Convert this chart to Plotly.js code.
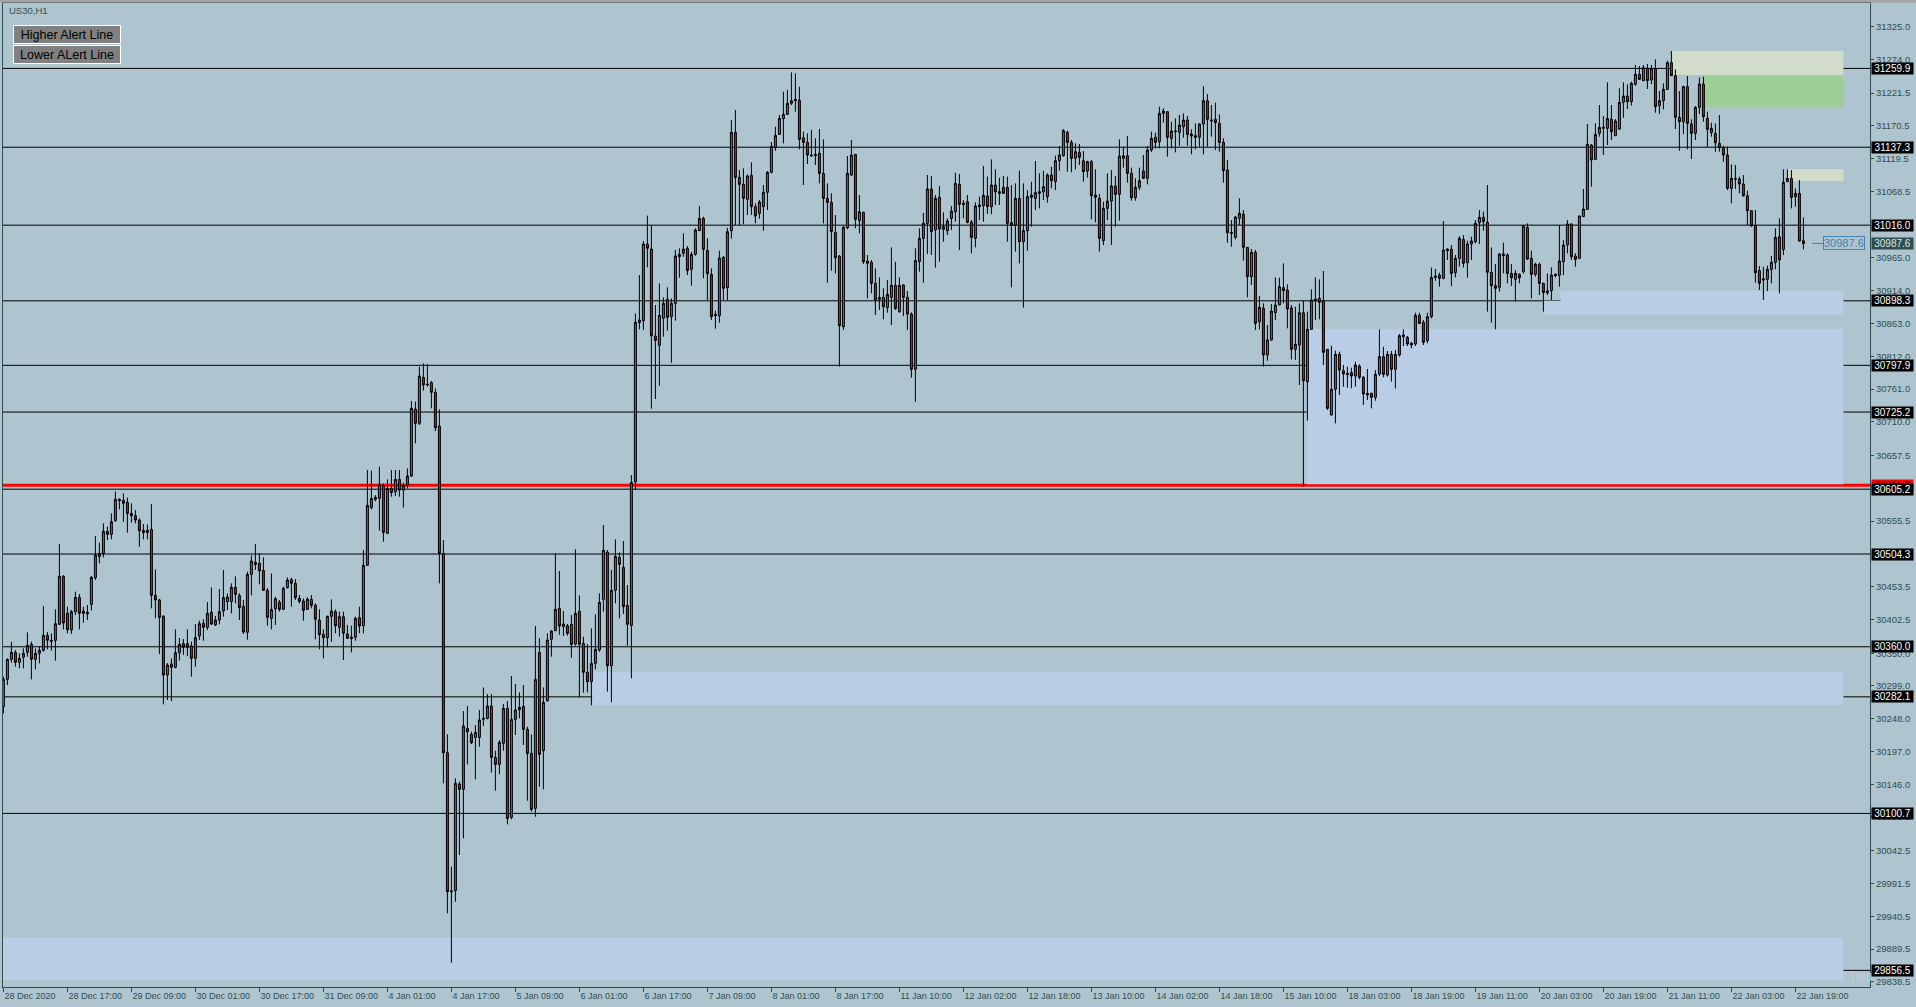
<!DOCTYPE html>
<html><head><meta charset="utf-8">
<script src="https://cdn.plot.ly/plotly-3.0.1.min.js"></script>
<style>html,body{margin:0;padding:0;background:#aec4cf;overflow:hidden}#chart{width:1916px;height:1007px}</style>
</head><body><div id="chart"></div><script>
const openP = [
30266.8,30309.3,30340.4,30351.3,30335.8,30343.6,30351.3,30363.8,30340.4,30349.8,
30354.4,30377.8,30368.4,30370.0,30394.9,30469.6,30412.0,30386.1,30414.6,30436.9,
30415.6,30411.0,30426.0,30467.5,30500.2,30505.4,30539.6,30534.9,30556.2,30589.4,
30587.8,30584.7,30567.6,30564.0,30557.2,30541.1,30537.8,30542.7,30440.0,30432.8,
30407.3,30316.1,30333.2,30328.0,30350.8,30364.8,30364.8,30361.2,30342.0,30376.7,
30396.4,30390.2,30413.6,30393.9,30401.6,30415.6,30430.2,30430.2,30452.5,30440.0,
30422.9,30382.4,30472.7,30491.4,30489.8,30478.9,30447.8,30404.2,30419.3,30429.6,
30418.2,30451.9,30464.4,30458.7,30435.3,30431.2,30418.2,30433.8,30424.5,30401.6,
30379.3,30374.1,30407.3,30414.6,30390.2,30406.8,30379.9,30372.6,30374.7,30405.3,
30392.8,30486.7,30576.4,30592.5,30590.9,30610.6,30536.5,30606.5,30601.3,30620.5,
30603.9,30611.7,30625.7,30729.9,30707.6,30779.2,30767.3,30770.9,30755.9,30703.5,
30505.3,30195.2,29978.9,29980.5,30146.4,30138.1,30233.0,30223.7,30219.0,30219.0,
30247.1,30248.6,30267.8,30187.9,30177.0,30209.7,30264.2,30094.6,30247.1,30262.1,
30267.3,30231.5,30194.1,30108.6,30351.3,30198.3,30276.1,30371.5,30385.0,30419.8,
30391.2,30392.8,30394.9,30364.3,30415.1,30365.3,30320.2,30305.7,30334.2,30354.9,
30433.8,30507.4,30330.5,30447.8,30499.1,30483.6,30424.4,30393.3,30616.4,30864.3,
30867.4,30986.7,30978.9,30843.5,30829.0,30871.0,30900.6,30873.6,30894.4,30967.0,
30972.2,30980.0,30947.3,30970.6,31007.4,31026.6,30976.8,30939.5,30877.2,30875.2,
30965.9,30918.7,31007.4,31160.4,31090.4,31079.5,31056.2,31093.5,31044.8,31034.4,
31044.8,31067.1,31098.2,31137.1,31157.3,31181.7,31188.4,31205.6,31209.7,31210.2,
31152.1,31144.9,31125.1,31124.1,31127.8,31096.6,31057.7,31051.5,31004.8,30968.0,
30858.0,31012.1,31094.0,31126.2,31023.0,31036.0,30960.2,30958.2,30925.5,30900.6,
30903.7,30887.6,30903.7,30922.4,30881.4,30922.9,30903.7,30877.8,30791.7,30959.2,
30995.5,31018.8,31072.3,31008.5,31059.3,31009.5,31007.4,31026.6,31037.0,31079.5,
31050.0,31052.5,31020.9,30995.5,31044.8,31046.3,31061.4,31044.8,31078.5,31065.5,
31074.9,31074.9,31019.9,31016.2,31057.7,30990.3,31007.4,31059.3,31057.7,31065.5,
31068.1,31060.3,31094.1,31083.7,31116.3,31124.1,31160.4,31144.9,31120.0,31129.3,
31116.3,31100.3,31114.8,31062.9,31057.7,30991.9,31042.2,31053.6,31077.0,31064.0,
31120.0,31124.0,31096.6,31058.8,31074.9,31100.3,31088.9,31132.9,31152.7,31145.9,
31190.0,31192.6,31151.1,31161.5,31160.4,31169.2,31179.6,31157.8,31155.2,31152.7,
31173.4,31209.7,31179.6,31180.7,31174.4,31144.9,31101.8,31004.8,30997.1,31026.6,
31032.9,30981.5,30935.9,30973.7,30865.8,30886.6,30814.0,30837.3,30879.8,30891.8,
30918.7,30915.1,30887.2,30822.8,30829.5,30879.8,30772.5,30853.9,30898.5,30902.2,
30898.5,30822.8,30720.6,30760.6,30815.0,30789.6,30785.4,30786.5,30781.3,30796.9,
30779.2,30754.3,30754.3,30748.1,30784.4,30811.4,30782.8,30815.0,30791.7,30814.0,
30842.5,30841.5,30829.5,30831.1,30875.7,30864.8,30836.3,30873.6,30934.8,30938.4,
30933.3,30978.9,30978.4,30942.1,30964.4,30993.9,30957.6,30986.7,30990.3,31019.9,
31028.2,31020.4,30942.6,30921.9,30919.3,30971.1,30969.6,30941.0,30931.7,30939.5,
30943.6,31012.6,30964.4,30939.5,30955.1,30925.5,30913.6,30914.1,30937.4,30937.9,
30959.2,30985.1,31017.8,30968.0,30964.4,31029.2,31040.6,31140.7,31118.4,31158.9,
31166.7,31166.7,31180.7,31155.2,31165.6,31207.1,31217.0,31208.2,31235.1,31250.7,
31240.8,31260.0,31241.9,31259.0,31201.9,31209.7,31227.3,31268.8,31248.6,31183.8,
31177.0,31231.5,31173.4,31158.9,31199.3,31235.6,31182.2,31159.9,31158.8,31143.3,
31136.5,31125.1,31073.3,31088.8,31087.8,31080.0,31061.8,31038.5,31015.2,30945.2,
30930.6,30931.7,30947.2,30958.1,30998.1,30978.3,31083.6,31088.8,31060.3,31065.5,
30991.8];
const highP = [
30313.5,30342.0,30367.9,30354.9,30349.8,30357.5,30382.4,30367.9,30357.5,30360.1,
30423.4,30383.0,30380.9,30418.2,30519.9,30471.6,30422.4,30417.2,30445.7,30442.1,
30422.4,30425.0,30470.1,30532.3,30522.0,30552.0,30546.9,30567.6,30601.8,30590.9,
30598.7,30592.0,30583.2,30572.8,30559.8,30551.0,30550.5,30582.1,30480.5,30434.8,
30409.4,30334.7,30342.0,30387.1,30373.6,30372.1,30387.1,30367.9,30395.4,30400.6,
30402.7,30429.6,30452.5,30407.9,30449.9,30479.4,30443.1,30458.7,30469.6,30443.1,
30432.8,30476.8,30502.2,30519.9,30505.4,30499.1,30451.4,30474.2,30437.9,30432.8,
30453.5,30468.0,30467.5,30465.4,30440.5,30435.3,30436.9,30440.5,30427.6,30418.2,
30387.1,30408.4,30433.8,30418.2,30414.6,30414.6,30393.9,30392.8,30406.8,30422.4,
30510.6,30635.0,30634.0,30596.1,30640.2,30614.3,30620.5,30635.0,30635.0,30635.0,
30615.3,30637.6,30742.4,30741.4,30795.8,30801.0,30800.0,30773.5,30762.1,30729.4,
30526.1,30223.7,30017.8,30155.2,30150.1,30260.0,30267.8,30227.9,30238.2,30261.6,
30296.8,30286.5,30286.5,30198.3,30214.9,30270.9,30275.6,30314.5,30302.0,30289.1,
30300.5,30235.6,30223.7,30392.3,30373.1,30296.8,30380.9,30386.0,30505.3,30477.8,
30415.6,30395.4,30409.4,30511.6,30440.0,30375.7,30364.3,30388.6,30410.4,30443.1,
30549.4,30510.5,30479.4,30527.1,30506.9,30524.5,30456.1,30627.2,30878.8,30938.4,
30991.3,31030.8,31015.7,30891.8,30925.5,30903.7,30919.3,30902.1,30977.3,30979.9,
31003.3,30983.6,30974.7,31011.1,31045.8,31029.2,30995.5,30948.8,30882.9,30976.3,
30968.0,31012.1,31179.6,31195.2,31101.8,31104.4,31095.1,31113.7,31049.9,31055.1,
31078.5,31100.3,31145.4,31169.2,31187.4,31223.7,31226.3,31253.8,31252.2,31231.5,
31161.5,31158.9,31164.1,31151.1,31165.6,31149.5,31081.1,31065.5,31031.8,30969.6,
31015.2,31123.6,31148.5,31126.7,31062.9,31037.0,30969.6,30961.8,30948.8,30934.8,
30917.7,30930.7,30981.5,30959.2,30934.8,30924.4,30913.6,30880.4,30980.0,31011.1,
31035.0,31094.1,31092.5,31062.9,31076.9,31036.0,31026.6,31045.8,31097.7,31095.6,
31055.1,31062.9,31024.0,31051.5,31060.3,31108.1,31091.5,31118.4,31102.9,31089.9,
31092.5,31091.5,31078.5,31081.1,31100.8,31081.1,31070.7,31083.7,31115.8,31096.6,
31100.8,31096.6,31107.0,31124.1,31139.2,31165.6,31163.0,31148.5,31143.3,31142.3,
31131.4,31116.3,31117.4,31102.9,31064.5,31052.6,31096.6,31101.8,31092.5,31149.5,
31138.1,31154.7,31105.5,31088.9,31105.5,31125.2,31139.2,31161.5,31159.9,31200.4,
31197.8,31193.6,31177.0,31182.2,31187.4,31190.0,31185.8,31165.1,31174.4,31174.4,
31232.0,31220.1,31203.0,31206.6,31188.4,31151.1,31117.4,31024.0,31030.3,31057.7,
31039.6,30981.5,30978.9,30977.3,30905.8,30894.4,30860.6,30893.3,30934.8,30934.3,
30956.6,30923.9,30891.8,30889.2,30894.4,30898.5,30881.4,30916.2,30934.8,30931.7,
30944.7,30823.3,30828.5,30820.7,30819.2,30798.4,30795.8,30794.3,30803.6,30799.5,
30781.3,30792.2,30755.4,30790.6,30853.9,30826.9,30820.2,30820.2,30821.8,30846.7,
30853.9,30843.5,30834.7,30879.8,30879.8,30868.4,30879.8,30950.0,30948.0,30942.1,
31022.5,30979.9,30985.1,30969.6,30999.1,31000.7,30991.9,30998.1,31024.0,31039.6,
31037.0,31078.5,30981.5,30955.6,30972.2,30988.8,30972.2,30955.6,30946.2,30941.0,
31016.2,31018.8,30976.3,30957.6,30957.6,30926.5,30941.0,30950.4,30941.0,31016.2,
30992.9,31024.0,31018.8,30972.2,31030.8,31072.3,31173.4,31142.3,31174.4,31203.0,
31185.8,31238.2,31203.0,31181.2,31228.9,31238.2,31235.1,31239.3,31265.2,31263.6,
31265.2,31266.8,31265.2,31274.0,31224.7,31236.7,31271.9,31287.0,31258.5,31224.7,
31233.0,31248.1,31180.7,31201.4,31246.0,31247.0,31192.6,31175.4,31174.4,31187.4,
31139.7,31138.1,31110.6,31109.6,31091.4,31094.0,31069.6,31039.6,31039.6,30952.4,
30951.4,30952.9,30968.0,31011.0,31026.6,31102.8,31102.8,31101.8,31073.3,31086.2,
31028.1];
const lowP = [
30256.4,30300.5,30335.2,30329.0,30326.4,30326.4,30344.6,30309.3,30324.9,30334.2,
30352.4,30356.0,30353.9,30338.4,30394.0,30387.1,30380.9,30379.9,30409.4,30387.1,
30397.5,30401.6,30416.2,30463.9,30489.8,30499.1,30526.1,30527.2,30554.6,30573.8,
30554.6,30537.5,30553.1,30552.0,30515.7,30527.2,30527.2,30419.8,30404.2,30348.7,
30270.4,30277.1,30275.6,30326.4,30338.4,30347.2,30345.6,30313.5,30329.0,30370.5,
30369.5,30386.1,30393.9,30392.3,30394.9,30406.8,30417.2,30412.0,30427.6,30401.6,
30379.9,30371.0,30440.0,30479.4,30457.1,30446.8,30392.8,30387.1,30393.9,30414.6,
30417.2,30450.9,30422.4,30432.8,30427.6,30400.6,30417.2,30419.8,30371.6,30356.0,
30342.0,30359.1,30367.9,30380.9,30375.7,30339.4,30372.6,30351.3,30369.5,30380.9,
30380.9,30485.7,30573.8,30586.3,30540.6,30523.5,30535.4,30593.5,30594.6,30593.5,
30576.4,30606.5,30624.7,30676.5,30705.0,30758.5,30764.7,30731.0,30695.7,30458.7,
30147.5,29945.2,29868.4,29963.4,30035.9,30061.9,30177.0,30208.7,30153.7,30204.5,
30236.7,30247.1,30164.1,30136.1,30161.5,30198.3,30083.7,30091.5,30222.7,30248.6,
30207.1,30120.5,30103.4,30095.6,30142.3,30138.1,30274.5,30344.6,30384.5,30378.8,
30376.7,30377.2,30343.0,30361.7,30281.3,30288.5,30289.1,30268.8,30324.8,30352.3,
30414.6,30290.1,30273.5,30427.5,30404.2,30411.0,30361.7,30310.8,30603.9,30853.9,
30852.9,30950.4,30730.5,30745.5,30766.2,30842.5,30851.8,30802.0,30867.4,30934.3,
30967.0,30938.4,30921.9,30968.5,31007.0,30933.3,30899.6,30868.4,30854.9,30864.3,
30899.6,30899.6,30995.0,31016.2,31016.2,31017.8,31031.8,31031.8,31018.8,31026.1,
31007.4,31039.6,31096.6,31131.9,31156.3,31143.3,31187.4,31203.0,31192.6,31134.0,
31078.5,31111.2,31122.6,31109.6,31081.1,31018.8,30926.5,30945.2,30941.1,30795.8,
30852.9,31009.5,31092.5,31011.1,31003.3,30955.6,30902.1,30909.9,30876.2,30884.0,
30869.5,30879.8,30860.6,30884.0,30879.8,30874.6,30852.9,30778.7,30741.4,30943.6,
30926.5,30971.1,30969.6,30949.9,30959.2,30990.3,31000.7,31008.5,31021.4,30977.3,
31026.6,31018.8,30972.2,30981.5,31024.0,31021.4,31033.4,31032.9,31047.4,31047.4,
31064.5,30990.3,30919.3,30974.8,30956.6,30887.6,30976.3,31013.7,31039.6,31042.2,
31055.1,31051.0,31073.3,31070.7,31100.8,31122.6,31099.2,31098.2,31102.9,31109.6,
31083.7,31090.0,31025.1,31020.4,30974.8,30985.1,31024.0,30985.1,31013.7,31023.0,
31105.5,31082.1,31054.1,31054.1,31070.7,31087.8,31079.5,31130.0,31135.5,31135.5,
31175.5,31122.6,31135.5,31129.3,31139.2,31152.1,31139.7,31126.2,31134.0,31138.1,
31126.2,31138.1,31153.7,31132.9,31130.4,31082.1,30988.8,30982.5,30993.9,31016.2,
30960.8,30903.7,30922.9,30852.9,30853.9,30795.8,30805.1,30836.3,30868.4,30891.8,
30894.4,30855.5,30807.2,30806.2,30767.3,30609.1,30711.8,30853.9,30868.4,30869.5,
30798.4,30728.4,30719.6,30707.6,30751.7,30764.7,30763.1,30762.1,30764.7,30776.1,
30736.2,30743.9,30731.0,30742.9,30781.3,30779.2,30780.3,30772.5,30762.1,30811.4,
30828.0,30828.0,30824.4,30828.0,30862.0,30829.5,30832.1,30871.0,30929.6,30920.3,
30931.7,30961.8,30921.3,30934.8,30951.4,30949.9,30934.3,30961.8,30987.7,30986.7,
31007.4,30881.4,30864.3,30853.9,30912.5,30941.0,30925.5,30921.3,30897.0,30925.5,
30941.0,30961.8,30902.1,30935.9,30907.3,30881.4,30907.3,30899.6,30934.8,30920.3,
30938.4,30972.2,30961.8,30951.4,30963.4,31029.2,31039.6,31075.9,31118.0,31153.7,
31125.2,31140.7,31148.5,31155.2,31164.1,31183.2,31196.7,31201.9,31233.0,31241.9,
31240.3,31227.9,31235.6,31191.0,31189.0,31196.2,31226.3,31248.1,31165.6,31131.9,
31157.8,31134.0,31118.9,31148.5,31189.0,31177.0,31138.1,31153.7,31130.3,31130.3,
31114.8,31070.7,31049.9,31072.3,31065.5,31060.3,31016.2,31013.0,30926.5,30915.1,
30899.5,30913.5,30925.5,30947.2,30909.9,30969.5,31083.6,31042.1,31044.7,30990.3,
30978.4];
const closeP = [
30309.3,30340.4,30351.3,30335.8,30342.0,30349.8,30362.2,30340.4,30349.8,30354.4,
30377.8,30370.0,30369.5,30395.9,30469.6,30397.0,30386.6,30414.6,30436.9,30412.0,
30412.0,30413.6,30468.0,30502.8,30505.4,30539.6,30534.9,30554.6,30589.4,30587.3,
30583.2,30567.6,30564.0,30557.2,30540.6,30537.5,30541.1,30440.0,30432.8,30405.8,
30316.1,30331.6,30328.0,30350.8,30363.8,30359.1,30359.1,30342.0,30374.1,30395.9,
30390.2,30412.0,30395.4,30401.6,30414.6,30436.4,30437.4,30452.5,30441.6,30420.8,
30383.0,30472.7,30493.4,30488.2,30477.9,30447.8,30405.8,30418.2,30434.8,30418.2,
30450.9,30463.9,30458.7,30436.4,30430.7,30416.7,30433.8,30424.5,30402.7,30378.8,
30374.1,30407.3,30415.6,30392.8,30406.8,30380.9,30373.1,30375.2,30404.2,30392.3,
30486.7,30580.1,30590.9,30589.4,30612.7,30538.0,30606.5,30599.8,30620.5,30603.9,
30611.2,30625.7,30731.0,30707.6,30781.3,30767.3,30768.3,30755.9,30700.9,30505.3,
30195.2,29978.9,29980.0,30147.5,30138.1,30236.7,30227.9,30210.7,30226.8,30246.0,
30248.6,30267.8,30187.9,30177.0,30211.3,30264.2,30093.0,30247.1,30261.6,30265.7,
30231.5,30194.1,30107.0,30309.3,30192.6,30273.5,30370.5,30384.5,30418.2,30392.3,
30395.4,30380.9,30363.7,30412.0,30363.7,30320.2,30305.7,30334.2,30356.0,30429.1,
30510.0,30330.5,30447.8,30500.7,30488.2,30422.4,30394.9,30615.8,30864.8,30868.4,
30986.7,30980.0,30844.1,30836.8,30875.7,30894.4,30872.6,30894.4,30968.0,30970.6,
30978.9,30945.2,30970.6,31008.5,31026.6,30978.4,30940.5,30873.6,30875.2,30964.9,
30917.7,31005.9,31160.4,31090.4,31079.5,31057.7,31092.5,31044.8,31030.2,31052.0,
31067.1,31098.2,31138.6,31155.8,31182.2,31188.4,31205.6,31209.7,31211.8,31149.5,
31144.9,31125.1,31124.1,31125.7,31096.6,31057.7,31051.5,31005.9,30965.4,30859.6,
31012.6,31096.6,31125.2,31025.1,31037.0,30959.2,30956.6,30925.5,30899.6,30903.7,
30889.2,30908.4,30922.4,30886.6,30922.4,30903.7,30877.8,30791.7,30960.8,30995.5,
31018.8,31072.3,31005.9,31057.7,31010.0,31013.7,31022.5,31038.0,31081.1,31048.4,
31048.4,31020.4,30997.1,31045.8,31047.4,31062.4,31044.8,31078.5,31068.1,31068.1,
31065.5,31018.8,31016.2,31057.7,30990.3,31007.4,31060.3,31062.9,31066.6,31068.1,
31075.9,31094.1,31085.2,31116.3,31125.2,31163.0,31144.9,31120.0,31130.4,31121.5,
31099.2,31114.8,31061.9,31059.3,30995.5,31042.2,31053.6,31077.0,31064.0,31123.6,
31124.0,31096.6,31058.8,31074.9,31085.2,31088.9,31132.9,31151.1,31144.9,31190.0,
31193.6,31152.7,31162.5,31162.5,31171.8,31179.6,31157.3,31154.7,31152.7,31173.4,
31209.7,31180.7,31178.6,31175.5,31144.9,31100.8,31004.3,31003.3,31028.7,31034.4,
30981.5,30935.9,30973.7,30863.2,30888.1,30814.0,30837.3,30882.4,30891.8,30920.3,
30914.1,30885.6,30822.8,30830.6,30879.8,30774.0,30853.9,30899.6,30901.1,30895.9,
30818.1,30731.0,30760.6,30815.0,30790.6,30784.4,30783.9,30781.3,30798.4,30779.2,
30753.3,30751.7,30748.1,30783.9,30811.4,30783.9,30815.0,30791.7,30815.0,30844.1,
30845.1,30831.1,30832.1,30875.7,30863.2,30833.7,30873.6,30934.8,30936.4,30933.3,
30977.3,30976.3,30941.0,30964.4,30995.5,30956.6,30986.7,30991.4,31018.8,31028.2,
31021.4,30942.6,30921.9,30917.7,30971.1,30968.5,30941.0,30934.3,30941.0,30934.3,
31014.7,30963.4,30939.5,30955.1,30925.5,30911.0,30911.0,30938.4,30939.5,30960.2,
30985.1,31017.8,30967.0,30962.8,31030.3,31041.1,31141.8,31117.4,31157.3,31168.2,
31168.2,31182.2,31161.5,31178.1,31207.1,31217.0,31208.2,31236.7,31250.7,31242.9,
31261.1,31240.8,31259.0,31200.4,31209.7,31227.3,31268.8,31248.6,31183.8,31177.0,
31231.5,31174.4,31158.9,31199.3,31235.6,31184.8,31165.1,31166.6,31144.3,31136.5,
31125.1,31073.3,31088.8,31087.7,31080.0,31061.8,31038.5,31015.2,30942.0,30925.5,
30932.2,30947.2,30958.1,30997.0,30961.8,31082.6,31088.8,31059.3,31065.5,30991.3,
30987.6];

const xTickIdx = [0,16,32,48,64,80,96,112,128,144,160,176,192,208,224,240,256,272,288,304,320,336,352,368,384,400,416,432,448];
const xTickText = ["28 Dec 2020","28 Dec 17:00","29 Dec 09:00","30 Dec 01:00","30 Dec 17:00","31 Dec 09:00","4 Jan 01:00","4 Jan 17:00","5 Jan 09:00","6 Jan 01:00","6 Jan 17:00","7 Jan 09:00","8 Jan 01:00","8 Jan 17:00","11 Jan 10:00","12 Jan 02:00","12 Jan 18:00","13 Jan 10:00","14 Jan 02:00","14 Jan 18:00","15 Jan 10:00","18 Jan 03:00","18 Jan 19:00","19 Jan 11:00","20 Jan 03:00","20 Jan 19:00","21 Jan 11:00","22 Jan 03:00","22 Jan 19:00"];
const yTickVals = [31325.0,31274.0,31221.5,31170.5,31119.5,31068.5,30965.0,30914.0,30863.0,30812.0,30761.0,30710.0,30657.5,30555.5,30453.5,30402.5,30350.0,30299.0,30248.0,30197.0,30146.0,30095.5,30042.5,29991.5,29940.5,29889.5,29838.5];
const levelPrices = [31259.9,31137.3,31016.0,30898.3,30797.9,30725.2,30605.2,30504.3,30360.0,30282.1,30100.7,29856.5];
const alertPrice = 30611.2;
const lastPrice = 30987.6;
const zoneStart = [417.2,425.0,446.0,385.1,389.3,325.8,147.2,-2];
const zoneEnd   = [460,460,460,460,460,460,460,460];
const zoneLow   = [31249.6,31199.8,31084.7,30876.2,30876.2,30613.0,30269.4,29841.5];
const zoneHigh  = [31287.0,31248.6,31103.4,30898.3,30913.6,30854.4,30321.2,29907.3];
const zoneKind  = ['pale','green','pale','blue','blue','blue','blue','blue'];
const textObjX = 460.8, textObjPrice = 29847.7;

const barIdx = openP.map((_, i) => i);
const FONT = 'Liberation Sans, Arial, sans-serif';
const FG = '#2f4f4f';
const BG = '#aec4cf';
const zoneColor = {pale:'#d1dccb', green:'#9fcd97', blue:'#b9cde6'};

const shapes = [];
shapes.push({type:'rect', xref:'paper', yref:'paper', x0:-0.01, x1:1.03, y0:1.0006, y1:1.01, fillcolor:'#a3a3a3', line:{width:0}, layer:'above'});
zoneStart.forEach((x0, i) => shapes.push({type:'rect', xref:'x', yref:'y', x0:x0, x1:zoneEnd[i], y0:zoneLow[i], y1:zoneHigh[i], fillcolor:zoneColor[zoneKind[i]], line:{width:0}, layer:'below'}));
levelPrices.forEach(p => shapes.push({type:'line', xref:'paper', yref:'y', x0:0, x1:1, y0:p, y1:p, line:{color:'#000000', width:1}, layer:'below'}));
shapes.push({type:'line', xref:'paper', yref:'y', x0:0, x1:1, y0:alertPrice, y1:alertPrice, line:{color:'#ff0000', width:3}, layer:'below'});
shapes.push({type:'line', xref:'x', yref:'y', x0:452.2, x1:455, y0:lastPrice, y1:lastPrice, line:{color:'#4682b4', width:1}, layer:'above'});

const annotations = [];
annotations.push({xref:'x', x:textObjX, xanchor:'left', yref:'y', y:textObjPrice, yanchor:'middle', text:'Text', showarrow:false, font:{family:FONT, size:13, color:'#c3ced4'}});
const axisLabel = (p, bg, fg) => ({xref:'paper', x:1, xanchor:'left', xshift:1, yref:'y', y:p, yanchor:'middle', text:p.toFixed(1), showarrow:false, bgcolor:bg, borderpad:0, width:41, height:11, align:'center', font:{family:FONT, size:10, color:fg}});
annotations.push(axisLabel(alertPrice, '#ff0000', '#000000'));
levelPrices.forEach(p => annotations.push(axisLabel(p, '#000000', '#ffffff')));
annotations.push(axisLabel(lastPrice, '#2f4f4f', '#dfe6e6'));
annotations.push({xref:'x', x:455, xanchor:'left', yref:'y', y:lastPrice, yanchor:'middle', text:lastPrice.toFixed(1), showarrow:false, font:{family:FONT, size:11, color:'#4682b4'}, bordercolor:'#4682b4', borderwidth:1, borderpad:0});
annotations.push({xref:'paper', yref:'paper', x:0.0022, xanchor:'left', y:0.9995, yanchor:'top', text:'US30,H1', showarrow:false, font:{family:FONT, size:9.5, color:FG}});
annotations.push({xref:'paper', yref:'paper', x:0.0054, xanchor:'left', y:0.9776, yanchor:'top', text:'Higher Alert Line', showarrow:false, bgcolor:'#808080', bordercolor:'#ffffff', borderwidth:1, borderpad:1, width:104, height:15, align:'center', font:{family:FONT, size:12.5, color:'#000000'}});
annotations.push({xref:'paper', yref:'paper', x:0.0054, xanchor:'left', y:0.9573, yanchor:'top', text:'Lower ALert Line', showarrow:false, bgcolor:'#808080', bordercolor:'#ffffff', borderwidth:1, borderpad:1, width:104, height:15, align:'center', font:{family:FONT, size:12.5, color:'#000000'}});

const trace = {
  type:'candlestick', x:barIdx, open:openP, high:highP, low:lowP, close:closeP,
  increasing:{line:{color:'#000000', width:1}, fillcolor:'#6a5acd'},
  decreasing:{line:{color:'#000000', width:1}, fillcolor:'#e01414'},
  whiskerwidth:0, hoverinfo:'skip', showlegend:false
};

const layout = {
  width:1916, height:1007,
  margin:{l:3, r:46, t:3, b:20, pad:0},
  paper_bgcolor:BG, plot_bgcolor:BG,
  showlegend:false, hovermode:false, boxgap:0.3,
  xaxis:{type:'linear', range:[-0.1, 466.65], showgrid:false, zeroline:false,
    showline:true, mirror:true, linecolor:FG, linewidth:1,
    ticks:'outside', ticklen:4, tickcolor:FG, tickwidth:1,
    tickvals:xTickIdx, ticktext:xTickText, ticklabelposition:'outside right',
    tickfont:{family:FONT, size:9, color:FG}, rangeslider:{visible:false}, fixedrange:true},
  yaxis:{side:'right', range:[29830.6, 31361.7], showgrid:false, zeroline:false,
    showline:true, mirror:true, linecolor:FG, linewidth:1,
    ticks:'outside', ticklen:3, tickcolor:FG, tickwidth:1,
    tickvals:yTickVals, ticktext:yTickVals.map(v => v.toFixed(1)),
    tickfont:{family:FONT, size:9.5, color:FG}, fixedrange:true},
  shapes:shapes, annotations:annotations
};

Plotly.newPlot('chart', [trace], layout, {staticPlot:true, displayModeBar:false});
</script></body></html>
